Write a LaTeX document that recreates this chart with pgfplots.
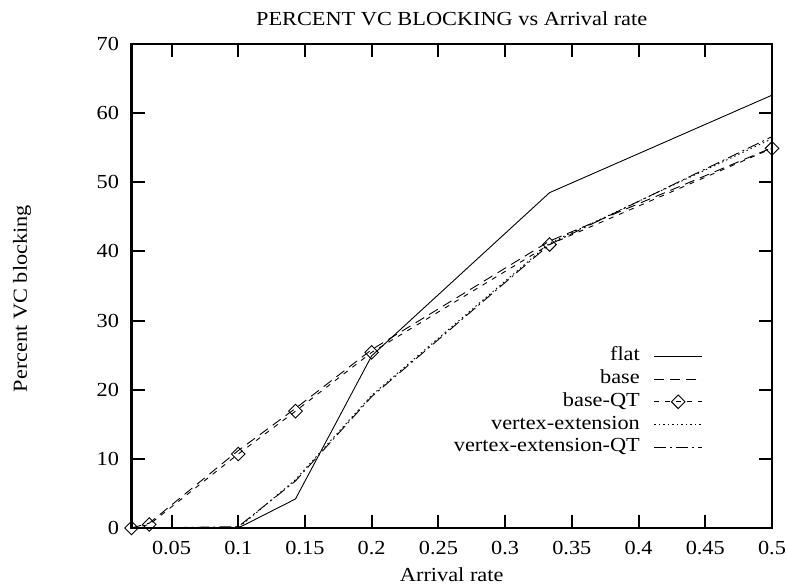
\documentclass[border=0pt]{standalone}
\usepackage{fontspec}
\setmainfont{Liberation Serif}[FakeStretch=1.12]
\usepackage{pgfplots}
\pgfplotsset{compat=1.18}
\begin{document}
\begin{tikzpicture}
\useasboundingbox (0bp,0bp) rectangle (787bp,585bp);
\begin{axis}[
  at={(131.5bp,57bp)}, anchor=south west, scale only axis,
  width=640.5bp, height=484bp,
  xmin=0.02, xmax=0.5, ymin=0, ymax=70,
  clip=false,
  axis line style={line width=2.4bp},
  tick style={line width=2bp, black},
  tick align=inside, major tick length=13bp,
  xtick={0.05,0.1,0.15,0.2,0.25,0.3,0.35,0.4,0.45,0.5},
  xticklabels={0.05,0.1,0.15,0.2,0.25,0.3,0.35,0.4,0.45,0.5},
  ytick={0,10,20,30,40,50,60,70},
  yticklabels={0,10,20,30,40,50,60,70},
  xticklabel style={yshift=-10bp},
  yticklabel style={xshift=-9bp},
  font=\fontsize{20}{24}\selectfont,
  /pgf/number format/assume math mode=true,
  legend style={at={(0.892,0.379)}, anchor=north east, draw=none, fill=none,
    inner sep=0bp, column sep=11bp, row sep=0bp,
    nodes={text height=13bp, text depth=4bp, inner sep=2.9bp},
    font=\fontsize{20}{24}\selectfont},
  legend cell align=right,
  legend plot pos=right,
  legend image code/.code={\draw[mark repeat=2,mark phase=2,#1] plot coordinates {(0bp,0bp) (24bp,0bp) (48bp,0bp)};},
]
\addplot[black, line width=0.9bp, solid] coordinates {
  (0.02,0) (0.0333,0) (0.1,0) (0.1429,4.2) (0.2,24.9) (0.3333,48.5) (0.5,62.6)};
\addlegendentry{flat}
\addplot[black, line width=0.9bp, dash pattern=on 10bp off 6bp] coordinates {
  (0.02,0) (0.0333,0.7) (0.1,11.2) (0.1429,17.3) (0.2,25.8) (0.3333,41.5) (0.5,55.0)};
\addlegendentry{base}
\addplot[black, line width=0.9bp, dash pattern=on 5bp off 6bp, mark=square, mark size=4.8bp, mark options={rotate=45, solid, line width=0.9bp}] coordinates {
  (0.02,0) (0.0333,0.5) (0.1,10.7) (0.1429,16.9) (0.2,25.4) (0.3333,41.0) (0.5,54.9)};
\addlegendentry{base-QT}
\addplot[black, line width=0.9bp, dash pattern=on 1.5bp off 3bp] coordinates {
  (0.02,0) (0.0333,0) (0.1,0) (0.1429,7.0) (0.2,19.2) (0.3333,41.2) (0.5,56.3)};
\addlegendentry{vertex-extension}
\addplot[black, line width=0.9bp, dash pattern=on 12bp off 4bp on 2bp off 4bp] coordinates {
  (0.02,0) (0.0333,0) (0.1,0.2) (0.1429,6.8) (0.2,19.0) (0.3333,41.0) (0.5,56.6)};
\addlegendentry{vertex-extension-QT}
\end{axis}
\node[font=\fontsize{20}{24}\selectfont] at (451.7bp,566bp) {PERCENT VC BLOCKING vs Arrival rate};
\node[font=\fontsize{20}{24}\selectfont] at (451.7bp,10bp) {Arrival rate};
\node[font=\fontsize{20}{24}\selectfont, rotate=90] at (22bp,286.5bp) {Percent VC blocking};
\end{tikzpicture}
\end{document}
